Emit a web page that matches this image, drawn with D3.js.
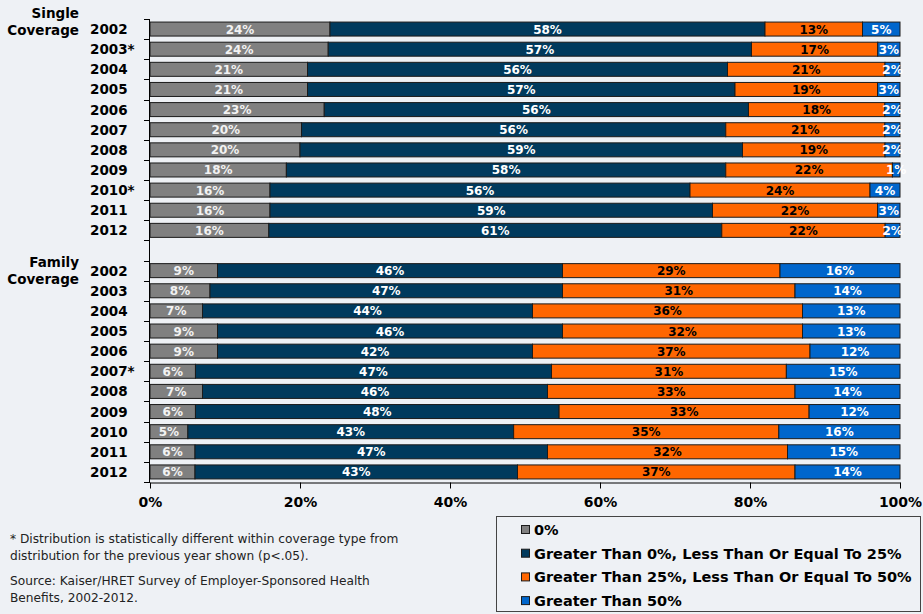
<!DOCTYPE html>
<html>
<head>
<meta charset="utf-8">
<script src="https://cdn.jsdelivr.net/npm/d3@7/dist/d3.min.js"></script>
<style>
  html, body { margin: 0; padding: 0; background: #EEF1F5; }
  svg { display: block; }
</style>
</head>
<body>
<svg id="chart" width="923" height="614"></svg>
<script>
// Distribution of workers by share of premium contribution
const seriesNames = [
  "0%",
  "Greater Than 0%, Less Than Or Equal To 25%",
  "Greater Than 25%, Less Than Or Equal To 50%",
  "Greater Than 50%"
];
const seriesColors = ["#808080", "#003A5D", "#FF6600", "#0066CC"];
const labelColors = ["#F2F2F2", "#FFFFFF", "#000000", "#FFFFFF"];

const singleYears = ["2002", "2003*", "2004", "2005", "2006", "2007", "2008", "2009", "2010*", "2011", "2012"];
const singleZero   = [24, 24, 21, 21, 23, 20, 20, 18, 16, 16, 16];
const singleLow    = [58, 57, 56, 57, 56, 56, 59, 58, 56, 59, 61];
const singleMid    = [13, 17, 21, 19, 18, 21, 19, 22, 24, 22, 22];
const singleHigh   = [5, 3, 2, 3, 2, 2, 2, 1, 4, 3, 2];

const familyYears = ["2002", "2003", "2004", "2005", "2006", "2007*", "2008", "2009", "2010", "2011", "2012"];
const familyZero   = [9, 8, 7, 9, 9, 6, 7, 6, 5, 6, 6];
const familyLow    = [46, 47, 44, 46, 42, 47, 46, 48, 43, 47, 43];
const familyMid    = [29, 31, 36, 32, 37, 31, 33, 33, 35, 32, 37];
const familyHigh   = [16, 14, 13, 13, 12, 15, 14, 12, 16, 15, 14];

const xTicks = [0, 20, 40, 60, 80, 100];

const footnoteLines = [
  "* Distribution is statistically different within coverage type from",
  "distribution for the previous year shown (p<.05)."
];
const sourceLines = [
  "Source:  Kaiser/HRET Survey of Employer-Sponsored Health",
  "Benefits, 2002-2012."
];

// Build rows: single block, a spacer slot, then family block
const keys = ["s0", "s1", "s2", "s3"];
const rows = [];
singleYears.forEach((y, i) => rows.push({ id: "S" + i, year: y,
  s0: singleZero[i], s1: singleLow[i], s2: singleMid[i], s3: singleHigh[i] }));
const gapId = "gap";
familyYears.forEach((y, i) => rows.push({ id: "F" + i, year: y,
  s0: familyZero[i], s1: familyLow[i], s2: familyMid[i], s3: familyHigh[i] }));

const slotIds = rows.slice(0, 11).map(d => d.id).concat([gapId], rows.slice(11).map(d => d.id));

const svg = d3.select("#chart");
const fontFamily = "'DejaVu Sans', Verdana, sans-serif";

const x = d3.scaleLinear().domain([0, 1]).range([150, 900]);
const y = d3.scaleBand().domain(slotIds).range([19, 482]).paddingInner(0).paddingOuter(0);
const barH = 14;

const stack = d3.stack().keys(keys).offset(d3.stackOffsetExpand);
const layers = stack(rows);

// Bars
const g = svg.append("g");
layers.forEach((layer, li) => {
  g.append("g")
    .selectAll("rect")
    .data(layer)
    .join("rect")
    .attr("x", d => x(d[0]))
    .attr("y", d => y(d.data.id) + (y.bandwidth() - barH) / 2)
    .attr("width", d => x(d[1]) - x(d[0]))
    .attr("height", barH)
    .attr("fill", seriesColors[li])
    .attr("stroke", "#1b1b1b")
    .attr("stroke-width", 1);
});

// Segment value labels
layers.forEach((layer, li) => {
  g.append("g")
    .selectAll("text")
    .data(layer)
    .join("text")
    .attr("x", d => (x(d[0]) + x(d[1])) / 2)
    .attr("y", d => y(d.data.id) + y.bandwidth() / 2 + 4.5)
    .attr("text-anchor", "middle")
    .attr("font-family", fontFamily)
    .attr("font-weight", "bold")
    .attr("font-size", 12)
    .attr("fill", labelColors[li])
    .text(d => d.data[keys[li]] + "%");
});

// Left axis line with ticks at slot boundaries
const axisG = svg.append("g").attr("stroke", "#000").attr("stroke-width", 1);
axisG.append("line")
  .attr("x1", 149.5).attr("x2", 149.5)
  .attr("y1", y.range()[0]).attr("y2", y.range()[1]);
const boundaries = slotIds.map(id => y(id)).concat([y.range()[1]]);
axisG.selectAll("line.tk")
  .data(boundaries)
  .join("line")
  .attr("class", "tk")
  .attr("x1", 144).attr("x2", 150)
  .attr("y1", d => Math.round(d) + 0.5).attr("y2", d => Math.round(d) + 0.5);

// Bottom axis
const xAxis = d3.axisBottom(x.copy().domain([0, 100]))
  .tickValues(xTicks)
  .tickSize(6)
  .tickSizeOuter(0)
  .tickFormat(d => d + "%");
const xg = svg.append("g")
  .attr("transform", "translate(0," + (y.range()[1] + 0.5) + ")")
  .call(xAxis);
xg.select(".domain").attr("stroke", "#000");
xg.selectAll(".tick line").attr("stroke", "#000");
xg.selectAll(".tick text")
  .attr("font-family", fontFamily)
  .attr("font-weight", "bold")
  .attr("font-size", 14)
  .attr("fill", "#000")
  .attr("dy", "0")
  .attr("y", 24);

// Year labels
svg.append("g")
  .selectAll("text")
  .data(rows)
  .join("text")
  .attr("x", 90)
  .attr("y", d => y(d.id) + y.bandwidth() / 2 + 5)
  .attr("font-family", fontFamily)
  .attr("font-weight", "bold")
  .attr("font-size", 13.5)
  .attr("fill", "#000")
  .text(d => d.year);

// Group titles
const groups = [
  { lines: ["Single", "Coverage"], y0: 18 },
  { lines: ["Family", "Coverage"], y0: 267 }
];
groups.forEach(gr => {
  const t = svg.append("text")
    .attr("text-anchor", "end")
    .attr("font-family", fontFamily)
    .attr("font-weight", "bold")
    .attr("font-size", 13.5)
    .attr("fill", "#000");
  gr.lines.forEach((ln, i) => {
    t.append("tspan").attr("x", 79).attr("y", gr.y0 + i * 17).text(ln);
  });
});

// Footnotes
const noteFont = "Tahoma, 'DejaVu Sans', sans-serif";
footnoteLines.forEach((ln, i) => {
  svg.append("text")
    .attr("x", 10).attr("y", 543 + i * 17)
    .attr("font-family", noteFont)
    .attr("font-size", 12.2)
    .attr("fill", "#222")
    .text(ln);
});
sourceLines.forEach((ln, i) => {
  svg.append("text")
    .attr("x", 10).attr("y", 585 + i * 17)
    .attr("font-family", noteFont)
    .attr("font-size", 12.2)
    .attr("fill", "#222")
    .text(ln);
});

// Legend
const lg = svg.append("g");
lg.append("rect")
  .attr("x", 496.5).attr("y", 516.5)
  .attr("width", 424).attr("height", 95)
  .attr("fill", "none")
  .attr("stroke", "#444")
  .attr("stroke-width", 1);
seriesNames.forEach((name, i) => {
  const cy = 530 + i * 23.7;
  lg.append("rect")
    .attr("x", 521.5).attr("y", cy - 4.5)
    .attr("width", 8).attr("height", 8)
    .attr("fill", seriesColors[i])
    .attr("stroke", "#1b1b1b");
  lg.append("text")
    .attr("x", 534).attr("y", cy + 5)
    .attr("font-family", fontFamily)
    .attr("font-weight", "bold")
    .attr("font-size", 14.5)
    .attr("fill", "#000")
    .text(name);
});
</script>
</body>
</html>
